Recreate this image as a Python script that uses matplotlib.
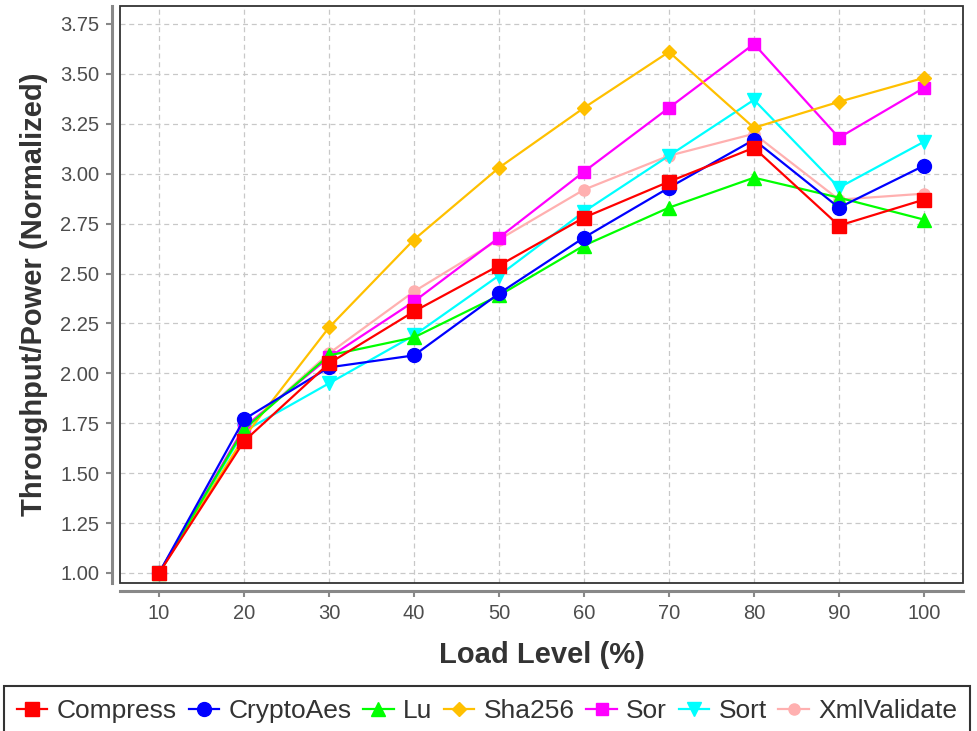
import numpy as np
import matplotlib.pyplot as plt
from matplotlib.patches import Rectangle

plt.rcParams["font.family"] = ["Liberation Sans", "DejaVu Sans"]

load_levels = [10, 20, 30, 40, 50, 60, 70, 80, 90, 100]

compress = [1.00, 1.66, 2.05, 2.31, 2.54, 2.78, 2.96, 3.13, 2.74, 2.87]
crypto_aes = [1.00, 1.77, 2.03, 2.09, 2.40, 2.68, 2.93, 3.17, 2.83, 3.04]
lu = [1.00, 1.72, 2.09, 2.18, 2.39, 2.64, 2.83, 2.98, 2.88, 2.77]
sha256 = [1.00, 1.68, 2.23, 2.67, 3.03, 3.33, 3.61, 3.23, 3.36, 3.48]
sor = [1.00, 1.73, 2.08, 2.36, 2.68, 3.01, 3.33, 3.65, 3.18, 3.43]
sort = [1.00, 1.71, 1.95, 2.19, 2.49, 2.81, 3.09, 3.37, 2.93, 3.16]
xml_validate = [1.00, 1.72, 2.10, 2.41, 2.67, 2.92, 3.09, 3.20, 2.87, 2.90]

series = [
    ("Compress", compress, "#FF0000", "s", 10),
    ("CryptoAes", crypto_aes, "#0000FF", "o", 10),
    ("Lu", lu, "#00FF00", "^", 10),
    ("Sha256", sha256, "#FFC000", "D", 7.5),
    ("Sor", sor, "#FF00FF", "s", 8),
    ("Sort", sort, "#00FFFF", "v", 10),
    ("XmlValidate", xml_validate, "#FFB0B0", "o", 8),
]

y_ticks = np.arange(1.0, 3.76, 0.25)

fig = plt.figure(figsize=(9.77, 7.31), dpi=100)
ax = fig.add_axes([0.1228, 0.2025, 0.8629, 0.7893])

# draw the first series last so it sits on top, keep legend order as listed
handles = {}
for i, (name, vals, col, mk, ms) in enumerate(series):
    (ln,) = ax.plot(load_levels, vals, color=col, marker=mk, markersize=ms,
                    linewidth=1.6, label=name, zorder=3 + len(series) - i)
    handles[name] = ln

ax.set_xlim(5.4, 104.6)
ax.set_ylim(0.95, 3.84)
ax.set_xticks(load_levels)
ax.set_yticks(y_ticks)
ax.set_yticklabels([f"{v:.2f}" for v in y_ticks])

ax.grid(True, color="#c8c8c8", linestyle=(0, (4, 3)), linewidth=0.9)
ax.set_axisbelow(True)

# panel border plus detached gray axis lines
ax.add_patch(Rectangle((0, 0), 1, 1, transform=ax.transAxes, fill=False,
                       edgecolor="#333333", linewidth=1.3, clip_on=False, zorder=20))
for side in ["top", "right"]:
    ax.spines[side].set_visible(False)
for side in ["left", "bottom"]:
    ax.spines[side].set_position(("outward", 6))
    ax.spines[side].set_color("#888888")
    ax.spines[side].set_linewidth(2.2)

ax.tick_params(axis="both", colors="#888888", length=4, width=1.5,
               labelcolor="#4d4d4d", labelsize=14.5, pad=5)

ax.set_xlabel("Load Level (%)", fontsize=21, fontweight="bold",
              color="#333333", labelpad=13)
ax.set_ylabel("Throughput/Power (Normalized)", fontsize=21, fontweight="bold",
              color="#333333", labelpad=9)

leg = fig.legend([handles[s[0]] for s in series], [s[0] for s in series],
                 loc="upper center", bbox_to_anchor=(0.4985, 0.0616), ncol=7,
                 frameon=True, fancybox=False, fontsize=19, handlelength=1.15,
                 handletextpad=0.35, columnspacing=0.45, borderpad=0.5,
                 borderaxespad=0)
leg.get_frame().set_edgecolor("black")
leg.get_frame().set_linewidth(1.5)
for t in leg.get_texts():
    t.set_color("#333333")

fig.savefig("out.png", dpi=100)
